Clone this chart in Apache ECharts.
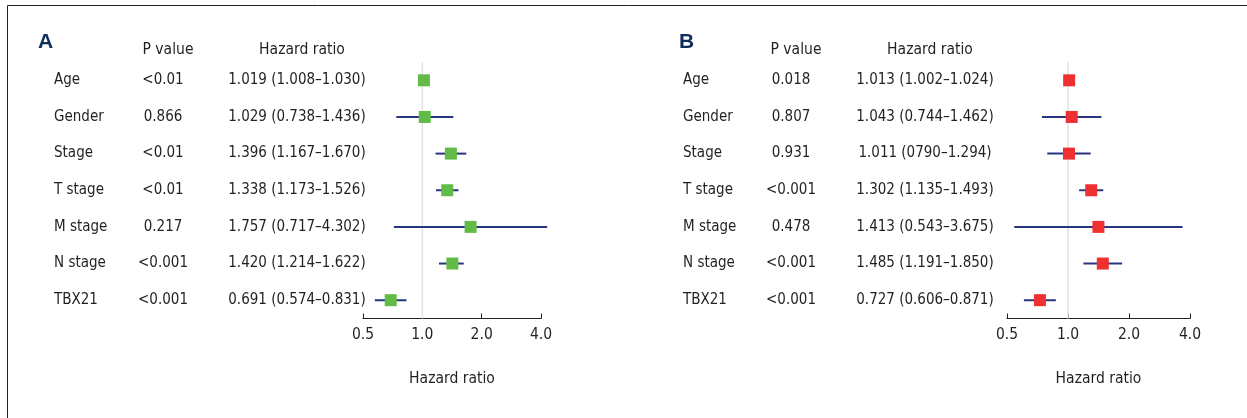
<!DOCTYPE html>
<html>
<head>
<meta charset="utf-8">
<script src="https://cdn.jsdelivr.net/npm/echarts@6/dist/echarts.min.js"></script>
<style>
html,body{margin:0;padding:0;background:#fff;}
#chart{width:1247px;height:418px;}
</style>
</head>
<body>
<div id="chart"></div>
<script>
var categories = ['Age', 'Gender', 'Stage', 'T stage', 'M stage', 'N stage', 'TBX21'];
var xTicks = [0.5, 1, 2, 4];
var referenceHR = 1;

var pValuesA = ['<0.01', '0.866', '<0.01', '<0.01', '0.217', '<0.001', '<0.001'];
var hrA = [1.019, 1.029, 1.396, 1.338, 1.757, 1.420, 0.691];
var lowA = [1.008, 0.738, 1.167, 1.173, 0.717, 1.214, 0.574];
var highA = [1.030, 1.436, 1.670, 1.526, 4.302, 1.622, 0.831];
var hrLabelsA = ['1.019 (1.008\u20131.030)', '1.029 (0.738\u20131.436)', '1.396 (1.167\u20131.670)',
  '1.338 (1.173\u20131.526)', '1.757 (0.717\u20134.302)', '1.420 (1.214\u20131.622)', '0.691 (0.574\u20130.831)'];

var pValuesB = ['0.018', '0.807', '0.931', '<0.001', '0.478', '<0.001', '<0.001'];
var hrB = [1.013, 1.043, 1.011, 1.302, 1.413, 1.485, 0.727];
var lowB = [1.002, 0.744, 0.790, 1.135, 0.543, 1.191, 0.606];
var highB = [1.024, 1.462, 1.294, 1.493, 3.675, 1.850, 0.871];
var hrLabelsB = ['1.013 (1.002\u20131.024)', '1.043 (0.744\u20131.462)', '1.011 (0790\u20131.294)',
  '1.302 (1.135\u20131.493)', '1.413 (0.543\u20133.675)', '1.485 (1.191\u20131.850)', '0.727 (0.606\u20130.871)'];

var FONT = '"Liberation Sans Narrow", "DejaVu Sans Condensed", sans-serif';
var TXT = '#231f20';
var NAVY = '#2a3580';
var FS = 15;

function rows(hr, lo, hi) {
  return categories.map(function (c, i) { return [hr[i], i, lo[i], hi[i]]; });
}

function renderForest(color) {
  return function (params, api) {
    var y = api.value(1);
    var p = api.coord([api.value(0), y]);
    var a = api.coord([api.value(2), y]);
    var b = api.coord([api.value(3), y]);
    var s = 12;
    var children = [];
    if (params.dataIndex === 0) {
      var cs = params.coordSys;
      var rx = api.coord([referenceHR, y])[0];
      children.push({ type: 'line', shape: { x1: rx, y1: cs.y, x2: rx, y2: cs.y + cs.height },
        style: { stroke: '#e2e2e2', lineWidth: 1.5 }, z2: -1 });
    }
    children.push({ type: 'line', shape: { x1: a[0], y1: a[1], x2: b[0], y2: b[1] },
      style: { stroke: NAVY, lineWidth: 2 } });
    children.push({ type: 'rect', shape: { x: p[0] - s / 2, y: p[1] - s / 2, width: s, height: s },
      style: { fill: color } });
    return { type: 'group', children: children };
  };
}

function yAxisFor(pv, hl, gridIndex, margin, nW, hW) {
  return {
    type: 'category', gridIndex: gridIndex, data: categories, inverse: true,
    axisLine: { show: false }, axisTick: { show: false }, splitLine: { show: false },
    axisLabel: {
      margin: margin, align: 'left', fontFamily: FONT, fontSize: FS, color: TXT,
      formatter: function (v, i) {
        return '{n|' + v + '}{p|' + pv[i] + '}{h|' + hl[i] + '}';
      },
      rich: {
        n: { width: nW, align: 'left', fontFamily: FONT, fontSize: FS, color: TXT },
        p: { width: 60, align: 'center', fontFamily: FONT, fontSize: FS, color: TXT },
        h: { width: hW, align: 'center', fontFamily: FONT, fontSize: FS, color: TXT }
      }
    }
  };
}

function xAxisFor(gridIndex) {
  return {
    type: 'log', logBase: 2, gridIndex: gridIndex, min: 0.5, max: 4,
    name: 'Hazard ratio', nameLocation: 'middle', nameGap: 52,
    nameTextStyle: { fontFamily: FONT, fontSize: 15.5, color: TXT },
    axisLine: { show: true, lineStyle: { color: TXT, width: 1 } },
    axisTick: { show: true, inside: true, length: 5, lineStyle: { color: TXT } },
    splitLine: { show: false }, minorTick: { show: false },
    axisLabel: {
      margin: 8, fontFamily: FONT, fontSize: 15.5, color: TXT,
      formatter: function (v) { return Number(v).toFixed(1); },
      customValues: xTicks
    }
  };
}

function header(text, x, top) {
  return { text: text, left: x, top: top, textAlign: 'center',
    textStyle: { fontFamily: FONT, fontSize: 15.5, fontWeight: 'normal', color: TXT } };
}

var chart = echarts.init(document.getElementById('chart'), null, { renderer: 'canvas' });
chart.setOption({
  animation: false,
  backgroundColor: '#ffffff',
  title: [
    { text: 'A', left: 33, top: 27, textStyle: { fontFamily: '"Liberation Sans", sans-serif', fontSize: 21, fontWeight: 'bold', color: '#0f2d5c' } },
    { text: 'B', left: 674, top: 27, textStyle: { fontFamily: '"Liberation Sans", sans-serif', fontSize: 21, fontWeight: 'bold', color: '#0f2d5c' } },
    header('P value', 163, 37),
    header('Hazard ratio', 297, 37),
    header('P value', 791, 37),
    header('Hazard ratio', 925, 37)
  ],
  graphic: [
    { type: 'polyline', shape: { points: [[7.5, 418], [7.5, 5.5], [1247, 5.5]] },
      style: { stroke: '#222', lineWidth: 1, fill: null } }
  ],
  grid: [
    { left: 363, right: 706, top: 62, bottom: 99.5 },
    { left: 1007, right: 57, top: 62, bottom: 99.5 }
  ],
  xAxis: [xAxisFor(0), xAxisFor(1)],
  yAxis: [
    yAxisFor(pValuesA, hrLabelsA, 0, 309, 79, 208),
    yAxisFor(pValuesB, hrLabelsB, 1, 324, 78, 208)
  ],
  series: [
    {
      type: 'custom', xAxisIndex: 0, yAxisIndex: 0, clip: false,
      data: rows(hrA, lowA, highA), renderItem: renderForest('#62bb46'),
      encode: { x: [0, 2, 3], y: 1 }, z: 3
    },
    {
      type: 'custom', xAxisIndex: 1, yAxisIndex: 1, clip: false,
      data: rows(hrB, lowB, highB), renderItem: renderForest('#ee3030'),
      encode: { x: [0, 2, 3], y: 1 }, z: 3
    }
  ]
});
</script>
</body>
</html>
